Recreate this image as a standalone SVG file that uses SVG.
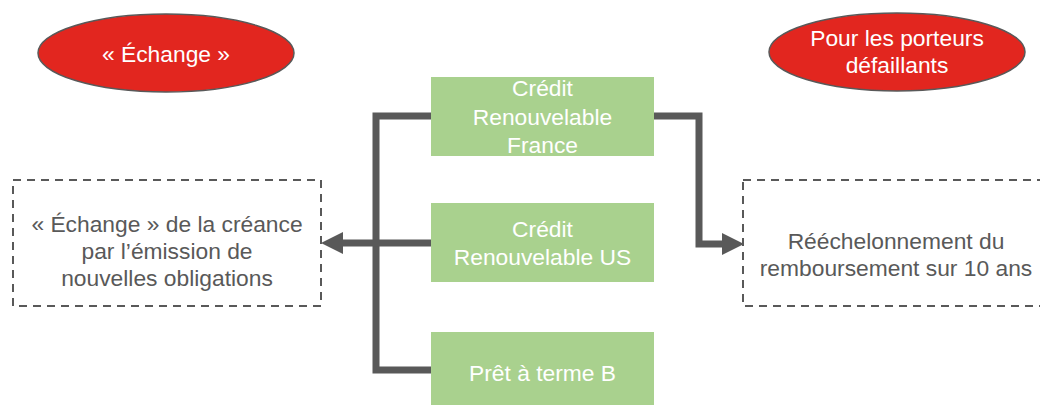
<svg xmlns="http://www.w3.org/2000/svg" width="1040" height="405" viewBox="0 0 1040 405">
  <style>
    text { font-family: "Liberation Sans", Arial, sans-serif; font-size: 22.8px; text-anchor: middle; }
    .oval { fill: #E2261F; stroke: #595959; stroke-width: 1.5; }
    .oval-text { fill: #FFFFFF; }
    .loan { fill: #A9D18E; }
    .loan-text { fill: #FFFFFF; }
    .outcome { fill: none; stroke: #595959; stroke-width: 2; stroke-dasharray: 8 6; }
    .outcome-text { fill: #595959; }
    .link { fill: none; stroke: #595959; stroke-width: 7; stroke-linejoin: miter; }
  </style>
  <defs>
    <marker id="arrow" viewBox="0 -11 22 22" refX="0" refY="0" markerWidth="22" markerHeight="22" markerUnits="userSpaceOnUse" orient="auto">
      <path d="M0,-11 L22,0 L0,11 Z" fill="#595959"/>
    </marker>
  </defs>

  <!-- connectors -->
  <g id="connectors">
    <path class="link" d="M431,116 H376 V370 H431"/>
    <path class="link" d="M431,243 H343" marker-end="url(#arrow)"/>
    <path class="link" d="M654,116 H699 V244 H722" marker-end="url(#arrow)"/>
  </g>

  <!-- headers -->
  <g id="header-echange">
    <ellipse class="oval" cx="166" cy="53" rx="128" ry="39"/>
    <text class="oval-text" x="166" y="62">« Échange »</text>
  </g>
  <g id="header-defaillants">
    <ellipse class="oval" cx="897" cy="52" rx="128" ry="39"/>
    <text class="oval-text" x="897" y="46">Pour les porteurs</text>
    <text class="oval-text" x="897" y="73">défaillants</text>
  </g>

  <!-- loan tranches -->
  <g id="credit-france">
    <rect class="loan" x="431" y="77" width="223" height="79"/>
    <text class="loan-text" x="542.5" y="96">Crédit</text>
    <text class="loan-text" x="542.5" y="125">Renouvelable</text>
    <text class="loan-text" x="542.5" y="153">France</text>
  </g>
  <g id="credit-us">
    <rect class="loan" x="431" y="203" width="223" height="79"/>
    <text class="loan-text" x="542.5" y="237">Crédit</text>
    <text class="loan-text" x="542.5" y="265">Renouvelable US</text>
  </g>
  <g id="pret-b">
    <rect class="loan" x="431" y="332" width="223" height="73"/>
    <text class="loan-text" x="542.5" y="381">Prêt à terme B</text>
  </g>

  <!-- outcomes -->
  <g id="outcome-echange">
    <rect class="outcome" x="13" y="180" width="308" height="126"/>
    <text class="outcome-text" x="167" y="232">« Échange » de la créance</text>
    <text class="outcome-text" x="167" y="259">par l’émission de</text>
    <text class="outcome-text" x="167" y="286">nouvelles obligations</text>
  </g>
  <g id="outcome-reechelonnement">
    <rect class="outcome" x="743" y="180" width="320" height="126"/>
    <text class="outcome-text" x="896" y="249">Rééchelonnement du</text>
    <text class="outcome-text" x="896" y="276">remboursement sur 10 ans</text>
  </g>
</svg>
